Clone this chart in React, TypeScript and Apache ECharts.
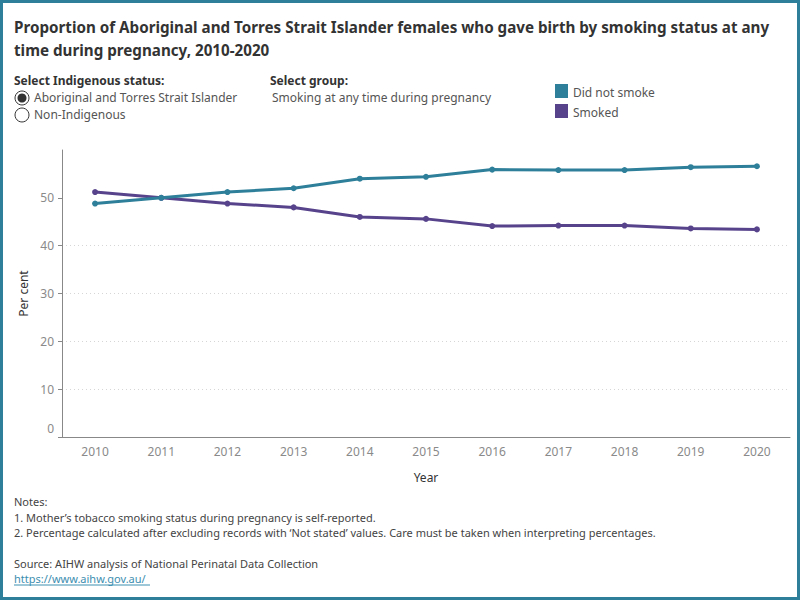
import React, { useEffect, useRef } from "react";
import * as echarts from "echarts";

const years = ["2010", "2011", "2012", "2013", "2014", "2015", "2016", "2017", "2018", "2019", "2020"];
const didNotSmoke = [48.8, 50.0, 51.2, 52.0, 54.0, 54.4, 55.9, 55.8, 55.8, 56.4, 56.6];
const smoked = [51.2, 50.0, 48.8, 48.0, 46.0, 45.6, 44.1, 44.2, 44.2, 43.6, 43.4];
const yTicks = [0, 10, 20, 30, 40, 50];

const TEAL = "#2e7f99";
const PURPLE = "#57438c";
const FONT = "'Noto Sans', 'Open Sans', sans-serif";

const title1 = "Proportion of Aboriginal and Torres Strait Islander females who gave birth by smoking status at any";
const title2 = "time during pregnancy, 2010-2020";
const notes = [
  "Notes:",
  "1. Mother\u2019s tobacco smoking status during pregnancy is self-reported.",
  "2. Percentage calculated after excluding records with \u2018Not stated\u2019 values. Care must be taken when interpreting percentages.",
];

export default function App() {
  const ref = useRef<HTMLDivElement>(null);

  useEffect(() => {
    document.body.style.margin = "0";
    const chart = echarts.init(ref.current!, null, { renderer: "svg" });

    const txt = (x: number, y: number, text: string, extra: any = {}) => ({
      type: "text",
      x,
      y,
      style: {
        text,
        fill: "#555",
        font: `12px ${FONT}`,
        textVerticalAlign: "middle",
        ...extra,
      },
    });

    chart.setOption({
      animation: false,
      backgroundColor: "#fff",
      grid: { left: 62, right: 10, top: 150, bottom: 163, containLabel: false },
      xAxis: {
        type: "category",
        data: years,
        boundaryGap: true,
        name: "Year",
        nameLocation: "middle",
        nameGap: 34,
        nameTextStyle: { color: "#333", fontSize: 12, fontFamily: FONT },
        axisLine: { lineStyle: { color: "#888" } },
        axisTick: { alignWithLabel: true, length: 4, lineStyle: { color: "#888" } },
        axisLabel: { color: "#8a8a8a", fontSize: 12, fontFamily: FONT, margin: 8 },
      },
      yAxis: {
        type: "value",
        min: 0,
        max: 60,
        interval: 10,
        name: "Per cent",
        nameLocation: "middle",
        nameGap: 31,
        nameTextStyle: { color: "#333", fontSize: 12, fontFamily: FONT },
        axisLine: { show: true, lineStyle: { color: "#888" } },
        axisTick: { show: true, length: 4, customValues: yTicks, lineStyle: { color: "#888" } },
        axisLabel: {
          color: "#8a8a8a",
          fontSize: 12,
          fontFamily: FONT,
          margin: 8,
          customValues: yTicks,
          formatter: (v: number) => (v === 0 ? "{z|0}" : String(v)),
          rich: {
            z: { color: "#8a8a8a", fontSize: 12, fontFamily: FONT, padding: [0, 0, 18, 0] },
          },
        },
        splitLine: {
          show: true,
          showMaxLine: false,
          showMinLine: false,
          lineStyle: { color: "#d6d6d6", type: [1, 3] },
        },
      },
      series: [
        {
          name: "Did not smoke",
          type: "line",
          data: didNotSmoke,
          symbol: "circle",
          symbolSize: 6,
          lineStyle: { color: TEAL, width: 3 },
          itemStyle: { color: TEAL },
          z: 3,
        },
        {
          name: "Smoked",
          type: "line",
          data: smoked,
          symbol: "circle",
          symbolSize: 6,
          lineStyle: { color: PURPLE, width: 3 },
          itemStyle: { color: PURPLE },
          z: 2,
        },
      ],
      graphic: [
        // frame
        {
          type: "rect",
          shape: { x: 1.5, y: 1.5, width: 797, height: 597 },
          style: { fill: "none", stroke: TEAL, lineWidth: 3 },
          silent: true,
        },
        txt(14, 27, title1, { fill: "#333", font: `bold 15.2px ${FONT}` }),
        txt(14, 50, title2, { fill: "#333", font: `bold 15.2px ${FONT}` }),
        txt(14, 80, "Select Indigenous status:", { fill: "#333", font: `bold 12px ${FONT}` }),
        {
          type: "circle",
          shape: { cx: 22, cy: 98, r: 7 },
          style: { fill: "#fff", stroke: "#333", lineWidth: 1 },
        },
        {
          type: "circle",
          shape: { cx: 22, cy: 98, r: 4.5 },
          style: { fill: "#333" },
        },
        txt(34, 97, "Aboriginal and Torres Strait Islander"),
        {
          type: "circle",
          shape: { cx: 22, cy: 115, r: 7 },
          style: { fill: "#fff", stroke: "#333", lineWidth: 1 },
        },
        txt(34, 114, "Non-Indigenous"),
        txt(270, 80, "Select group:", { fill: "#333", font: `bold 12px ${FONT}` }),
        txt(272, 97, "Smoking at any time during pregnancy"),
        { type: "rect", shape: { x: 555, y: 84, width: 13, height: 14 }, style: { fill: TEAL } },
        txt(573, 92, "Did not smoke"),
        { type: "rect", shape: { x: 555, y: 104, width: 13, height: 14 }, style: { fill: PURPLE } },
        txt(573, 112, "Smoked"),
        txt(14, 501, notes[0], { font: `11px ${FONT}`, fill: "#444" }),
        txt(14, 517, notes[1], { font: `11px ${FONT}`, fill: "#444" }),
        txt(14, 532, notes[2], { font: `11px ${FONT}`, fill: "#444" }),
        txt(14, 563, "Source: AIHW analysis of National Perinatal Data Collection", {
          font: `11px ${FONT}`,
          fill: "#444",
        }),
        txt(14, 578, "https://www.aihw.gov.au/", { font: `11px ${FONT}`, fill: "#3d8eb0" }),
        {
          type: "line",
          shape: { x1: 14, y1: 585, x2: 150, y2: 585 },
          style: { stroke: "#3d8eb0", lineWidth: 1 },
        },
      ],
    });

    return () => chart.dispose();
  }, []);

  return <div ref={ref} style={{ width: 800, height: 600 }} />;
}
